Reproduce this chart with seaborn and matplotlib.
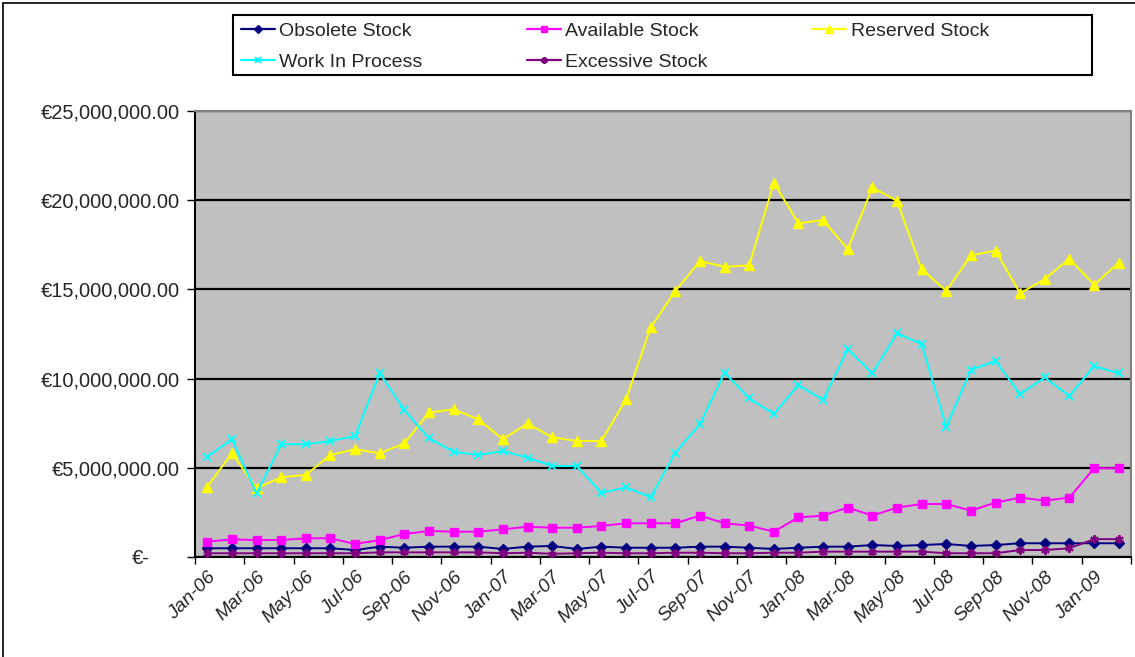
import numpy as np
import pandas as pd
import matplotlib
matplotlib.use("Agg")
import matplotlib.pyplot as plt
import matplotlib.transforms as mtransforms
from matplotlib.patches import Rectangle
from matplotlib.lines import Line2D
from matplotlib.ticker import FuncFormatter
import seaborn as sns

# Month-end stock values, in millions of euros
months = [
    "Jan-06", "Feb-06", "Mar-06", "Apr-06", "May-06", "Jun-06", "Jul-06", "Aug-06",
    "Sep-06", "Oct-06", "Nov-06", "Dec-06", "Jan-07", "Feb-07", "Mar-07", "Apr-07",
    "May-07", "Jun-07", "Jul-07", "Aug-07", "Sep-07", "Oct-07", "Nov-07", "Dec-07",
    "Jan-08", "Feb-08", "Mar-08", "Apr-08", "May-08", "Jun-08", "Jul-08", "Aug-08",
    "Sep-08", "Oct-08", "Nov-08", "Dec-08", "Jan-09", "Feb-09",
]

obsolete = [0.49, 0.49, 0.49, 0.49, 0.49, 0.49, 0.39, 0.58, 0.52, 0.58, 0.58, 0.58,
            0.45, 0.58, 0.62, 0.45, 0.58, 0.52, 0.52, 0.52, 0.58, 0.58, 0.52, 0.45,
            0.52, 0.58, 0.58, 0.67, 0.62, 0.67, 0.73, 0.62, 0.67, 0.77, 0.77, 0.77,
            0.77, 0.77]
available = [0.86, 0.99, 0.95, 0.95, 1.05, 1.05, 0.73, 0.95, 1.29, 1.46, 1.42, 1.42,
             1.55, 1.70, 1.64, 1.64, 1.74, 1.89, 1.89, 1.89, 2.32, 1.89, 1.76, 1.42,
             2.22, 2.32, 2.77, 2.32, 2.77, 2.97, 2.97, 2.60, 3.05, 3.33, 3.16, 3.33,
             4.97, 4.97]
reserved = [3.94, 5.81, 3.85, 4.47, 4.60, 5.72, 6.04, 5.81, 6.37, 8.10, 8.28, 7.72,
            6.60, 7.49, 6.71, 6.50, 6.50, 8.84, 12.87, 14.90, 16.59, 16.27, 16.35, 20.98,
            18.70, 18.89, 17.25, 20.72, 19.96, 16.14, 14.91, 16.91, 17.17, 14.78, 15.58,
            16.72, 15.25, 16.50]
work_in_process = [5.62, 6.60, 3.57, 6.32, 6.32, 6.50, 6.78, 10.30, 8.24, 6.65, 5.90,
                   5.72, 5.94, 5.57, 5.10, 5.10, 3.60, 3.90, 3.35, 5.85, 7.45, 10.33,
                   8.89, 8.02, 9.64, 8.80, 11.64, 10.30, 12.54, 11.94, 7.30, 10.48,
                   11.00, 9.12, 10.07, 9.02, 10.70, 10.30]
excessive = [0.21, 0.21, 0.21, 0.21, 0.21, 0.21, 0.21, 0.26, 0.26, 0.26, 0.26, 0.26,
             0.21, 0.24, 0.18, 0.21, 0.24, 0.21, 0.21, 0.24, 0.24, 0.21, 0.21, 0.24,
             0.24, 0.30, 0.30, 0.30, 0.30, 0.30, 0.21, 0.21, 0.21, 0.39, 0.39, 0.49,
             1.00, 1.00]

series_names = ["Obsolete Stock", "Available Stock", "Reserved Stock",
                "Work In Process", "Excessive Stock"]
series_values = [obsolete, available, reserved, work_in_process, excessive]

styles = {
    "Obsolete Stock": dict(color="#000080", marker="D", ms=5.0, mew=1.0),
    "Available Stock": dict(color="#FF00FF", marker="s", ms=5.5, mew=1.0),
    "Reserved Stock": dict(color="#FFFF00", marker="^", ms=6.5, mew=1.0),
    "Work In Process": dict(color="#00FFFF", marker="x", ms=6.0, mew=1.3),
    "Excessive Stock": dict(color="#800080", marker=(6, 2, 0), ms=6.0, mew=1.5),
}

frames = []
for name, vals in zip(series_names, series_values):
    frames.append(pd.DataFrame({
        "month": np.arange(len(months)),
        "value": np.asarray(vals) * 1e6,
        "series": name,
    }))
df = pd.concat(frames, ignore_index=True)

sns.set_theme(style="white")
plt.rcParams["font.family"] = ["Liberation Sans", "DejaVu Sans"]

W, H = 1135, 657
fig = plt.figure(figsize=(W / 100, H / 100), dpi=100)
fig.patch.set_facecolor("white")
ax = fig.add_axes([195 / W, 1 - 557 / H, (1131 - 195) / W, (557 - 111) / H])
ax.set_facecolor("#C0C0C0")

for name in series_names:
    st = styles[name]
    sns.lineplot(data=df[df["series"] == name], x="month", y="value", ax=ax,
                 color=st["color"], marker=st["marker"], markersize=st["ms"],
                 markeredgecolor=st["color"], markeredgewidth=st["mew"],
                 linewidth=1.4, legend=False, zorder=3)

# y axis: euro amounts every 5 million
ax.set_ylim(0, 25e6)
ax.set_yticks(np.arange(0, 25e6 + 1, 5e6))
ax.yaxis.set_major_formatter(FuncFormatter(
    lambda v, p: "€-" if v == 0 else f"€{v:,.2f}"))
ax.yaxis.grid(True, color="black", linewidth=1.6, zorder=1)
ax.set_axisbelow(True)
ax.tick_params(axis="y", direction="out", length=6, width=1, color="black",
               labelsize=14.5, pad=5, left=True)
zero_label = ax.get_yticklabels()[0]
zero_label.set_transform(zero_label.get_transform() +
                         mtransforms.ScaledTranslation(-0.30, 0, fig.dpi_scale_trans))

# x axis: tick marks between every second month, labels on the odd months
ax.set_xlim(-0.5, len(months) - 0.5)
ax.set_xticks(np.arange(-0.5, len(months), 2))
ax.set_xticklabels([])
ax.set_xticks(np.arange(0, len(months), 2), minor=True)
ax.set_xticklabels(months[::2], minor=True, rotation=45, ha="right",
                   rotation_mode="anchor", style="italic", fontsize=14)
ax.tick_params(axis="x", which="major", direction="out", length=5, width=1,
               color="black", bottom=True)
ax.tick_params(axis="x", which="minor", length=0, pad=8)
ax.set_xlabel("")
ax.set_ylabel("")

for side in ["left", "bottom"]:
    ax.spines[side].set_color("black")
    ax.spines[side].set_linewidth(1.5)
for side in ["top", "right"]:
    ax.spines[side].set_color("#808080")
    ax.spines[side].set_linewidth(1.5)

# legend: row-major order across three columns
order = ["Obsolete Stock", "Work In Process", "Available Stock",
         "Excessive Stock", "Reserved Stock"]
handles = [Line2D([], [], color=styles[n]["color"], marker=styles[n]["marker"],
                  markersize=styles[n]["ms"] * 0.8, markeredgecolor=styles[n]["color"],
                  markeredgewidth=styles[n]["mew"], linewidth=1.6) for n in order]
fig.legend(handles, order, loc="upper left", bbox_to_anchor=(225 / W, 1 - 7 / H),
           ncol=3, frameon=False, fontsize=14, handlelength=1.75,
           handletextpad=0.25, columnspacing=5.34, labelspacing=0.66,
           borderpad=0.3)
fig.add_artist(Rectangle((233 / W, 1 - 75 / H), (1092 - 233) / W, 60 / H,
                         transform=fig.transFigure, fill=False,
                         edgecolor="black", linewidth=1.5))

# outer chart border
fig.add_artist(Rectangle((3 / W, -0.05), 1.2, 1 - 3 / H + 0.05,
                         transform=fig.transFigure, fill=False,
                         edgecolor="black", linewidth=1.2))

fig.savefig("out.png", dpi=100)
